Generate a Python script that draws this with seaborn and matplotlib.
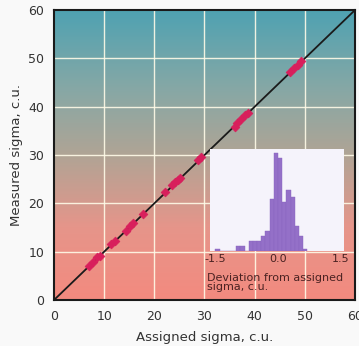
import numpy as np
import pandas as pd
import matplotlib
matplotlib.use("Agg")
import matplotlib.pyplot as plt
from matplotlib.colors import LinearSegmentedColormap
import seaborn as sns

# calibration points (assigned vs measured sigma, c.u.)
assigned = [7.0, 7.8, 8.6, 9.2, 11.4, 12.2, 14.4, 15.2, 15.8, 17.8,
            22.2, 23.6, 24.2, 24.8, 25.2, 28.8, 29.4,
            36.0, 36.4, 37.2, 38.0, 38.6, 47.0, 47.8, 48.6, 49.2]
measured = [7.1, 7.9, 8.8, 9.1, 11.5, 12.3, 14.3, 15.4, 15.9, 17.9,
            22.3, 23.9, 24.4, 24.9, 25.3, 29.0, 29.5,
            35.9, 36.7, 37.4, 38.2, 38.7, 47.2, 48.0, 48.6, 49.4]

# deviation histogram (bin edges, centres and counts)
dev_edges = [-1.5, -1.4, -1.3, -1.2, -1.1, -1.0, -0.9, -0.8, -0.7, -0.6,
             -0.5, -0.4, -0.3, -0.2, -0.1, 0.0, 0.1, 0.2, 0.3, 0.4,
             0.5, 0.6, 0.7]
dev_centres = [-1.45, -1.35, -1.25, -1.15, -1.05, -0.95, -0.85, -0.75,
               -0.65, -0.55, -0.45, -0.35, -0.25, -0.15, -0.05,
               0.05, 0.15, 0.25, 0.35, 0.45, 0.55, 0.65]
dev_counts = [1, 0, 0, 0, 0, 2, 2, 0,
              4, 4, 4, 6, 8, 21, 40,
              38, 20, 25, 22, 10, 6, 1]

sns.set_style("white")
plt.rcParams["font.family"] = ["DejaVu Sans"]

fig = plt.figure(figsize=(3.59, 3.46), dpi=100)
fig.patch.set_facecolor("#f9f9f9")
ax = fig.add_axes([0.1504, 0.1329, 0.8384, 0.838])

# background gradient
cmap = LinearSegmentedColormap.from_list(
    "bg", [(0.0, "#f38a7f"), (0.25, "#e6958a"), (0.5, "#b0a495"),
           (0.72, "#88a8a5"), (1.0, "#4fa2b2")])
grad = np.linspace(0, 1, 256).reshape(-1, 1)
ax.imshow(grad, extent=[0, 60, 0, 60], origin="lower", cmap=cmap,
          aspect="auto", zorder=0)

for v in range(10, 60, 10):
    ax.axvline(v, color="#fffbe8", lw=1.0, alpha=0.9, zorder=1)
    ax.axhline(v, color="#fffbe8", lw=1.0, alpha=0.9, zorder=1)

diag = pd.DataFrame({"x": [0, 60], "y": [0, 60]})
sns.lineplot(data=diag, x="x", y="y", color="#1a1a1a", lw=1.3, ax=ax, zorder=2)

pts = pd.DataFrame({"assigned": assigned, "measured": measured})
sns.scatterplot(data=pts, x="assigned", y="measured", marker="D", s=20,
                color="#d81f5c", edgecolor="#d81f5c", linewidth=0.5,
                ax=ax, zorder=3)

ax.set_xlim(0, 60)
ax.set_ylim(0, 60)
ax.set_xticks(range(0, 61, 10))
ax.set_yticks(range(0, 61, 10))
ax.tick_params(direction="out", length=4, width=1.2, color="#222222",
               labelsize=9, labelcolor="#333333", pad=3)
for s in ax.spines.values():
    s.set_color("#1a1a1a")
    s.set_linewidth(1.5)
    s.set_visible(True)
ax.set_xlabel("Assigned sigma, c.u.", fontsize=9.5, color="#333333", labelpad=6)
ax.set_ylabel("Measured sigma, c.u.", fontsize=9.5, color="#333333", labelpad=4)

# inset histogram
ins = fig.add_axes([0.585, 0.2746, 0.373, 0.2948])
ins.set_facecolor("#f5f3fb")
hist = pd.DataFrame({"dev": dev_centres, "n": dev_counts})
sns.histplot(data=hist, x="dev", weights="n", bins=dev_edges,
             color="#9470c8", alpha=1, edgecolor="#8a64c0", linewidth=0.3,
             ax=ins)
ins.set_xlim(-1.63, 1.58)
ins.set_ylim(0, 41.5)
ins.set_yticks([])
ins.set_ylabel("")
ins.set_xticks([-1.5, 0.0, 1.5])
ins.set_xticklabels(["-1.5", "0.0", "1.5"])
ins.tick_params(axis="x", direction="in", length=3, width=1, color="#333333",
                labelsize=8, labelcolor="#4a2222", pad=2)
for s in ins.spines.values():
    s.set_visible(False)
ins.set_xlabel("")
fig.text(0.577, 0.212, "Deviation from assigned\nsigma, c.u.", fontsize=8,
         color="#4a2222", ha="left", va="top", linespacing=0.9)

fig.savefig("out.png", dpi=100, facecolor=fig.get_facecolor())
